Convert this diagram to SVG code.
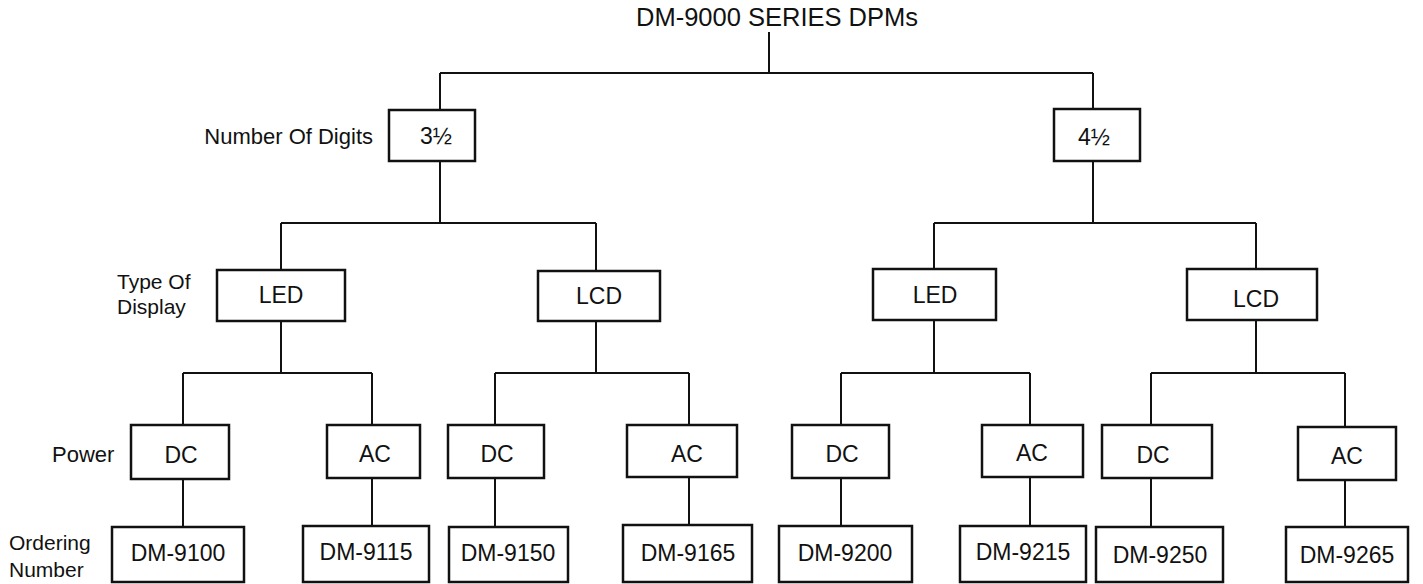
<svg xmlns="http://www.w3.org/2000/svg" width="1423" height="584" viewBox="0 0 1423 584">
<style>
.bx{fill:#fff;stroke:#111;stroke-width:2.5}
.ln{fill:none;stroke:#111;stroke-width:2}
text{font-family:"Liberation Sans",Arial,sans-serif;fill:#111}
.t{font-size:23px;text-anchor:middle}
.lb{font-size:22px}
</style>
<rect width="1423" height="584" fill="#fff"/>
<text x="777" y="26" style="font-size:25.5px;text-anchor:middle">DM-9000 SERIES DPMs</text>
<g id="labels">
<text class="lb" x="373" y="144" text-anchor="end">Number Of Digits</text>
<text class="lb" x="117" y="289" style="font-size:21px">Type Of</text>
<text class="lb" x="117" y="314" style="font-size:21px">Display</text>
<text class="lb" x="52" y="462">Power</text>
<text class="lb" x="9" y="550" style="font-size:21px">Ordering</text>
<text class="lb" x="9" y="577" style="font-size:21px">Number</text>
</g>
<g id="connectors" class="ln">
<path d="M769 32V73M440 73H1093M440 73V110M1093 73V109"/>
<path d="M440 161V223M281 223H596M281 223V270M596 223V271"/>
<path d="M1093 162V223M934 223H1256M934 223V269M1256 223V269"/>
<path d="M281 321V373M183 373H372M183 373V425M372 373V425"/>
<path d="M596 321V373M495 373H689M495 373V425M689 373V425"/>
<path d="M934 320V373M841 373H1030M841 373V425M1030 373V425"/>
<path d="M1256 320V373M1151 373H1345M1151 373V425M1345 373V427"/>
<path d="M183 479V527M372 478V526M495 478V527M689 477V525M841 478V526M1030 477V526M1151 478V527M1345 480V527"/>
</g>
<g id="n35"><rect class="bx" x="389" y="110" width="86" height="51"/><text class="t" x="436" y="144">3½</text></g>
<g id="n45"><rect class="bx" x="1054" y="109" width="86" height="52"/><text class="t" x="1094" y="145">4½</text></g>
<g id="led1"><rect class="bx" x="217" y="270" width="128" height="51"/><text class="t" x="281" y="303">LED</text></g>
<g id="lcd1"><rect class="bx" x="538" y="271" width="122" height="50"/><text class="t" x="599" y="304">LCD</text></g>
<g id="led2"><rect class="bx" x="873" y="269" width="123" height="51"/><text class="t" x="935" y="303">LED</text></g>
<g id="lcd2"><rect class="bx" x="1187" y="269" width="130" height="51"/><text class="t" x="1256" y="307">LCD</text></g>
<g id="dc1"><rect class="bx" x="131" y="425" width="98" height="54"/><text class="t" x="181" y="463">DC</text></g>
<g id="ac1"><rect class="bx" x="327" y="425" width="93" height="53"/><text class="t" x="375" y="462">AC</text></g>
<g id="dc2"><rect class="bx" x="448" y="425" width="96" height="53"/><text class="t" x="497" y="462">DC</text></g>
<g id="ac2"><rect class="bx" x="627" y="425" width="110" height="52"/><text class="t" x="687" y="462">AC</text></g>
<g id="dc3"><rect class="bx" x="792" y="425" width="97" height="53"/><text class="t" x="842" y="462">DC</text></g>
<g id="ac3"><rect class="bx" x="982" y="425" width="101" height="52"/><text class="t" x="1032" y="461">AC</text></g>
<g id="dc4"><rect class="bx" x="1102" y="425" width="110" height="53"/><text class="t" x="1153" y="463">DC</text></g>
<g id="ac4"><rect class="bx" x="1298" y="427" width="98" height="53"/><text class="t" x="1347" y="464">AC</text></g>
<g id="dm9100"><rect class="bx" x="112" y="527" width="132" height="55"/><text class="t" x="178" y="561">DM-9100</text></g>
<g id="dm9115"><rect class="bx" x="303" y="526" width="126" height="56"/><text class="t" x="366" y="560">DM-9115</text></g>
<g id="dm9150"><rect class="bx" x="449" y="527" width="119" height="55"/><text class="t" x="508" y="561">DM-9150</text></g>
<g id="dm9165"><rect class="bx" x="623" y="525" width="129" height="57"/><text class="t" x="688" y="561">DM-9165</text></g>
<g id="dm9200"><rect class="bx" x="779" y="526" width="133" height="56"/><text class="t" x="845" y="561">DM-9200</text></g>
<g id="dm9215"><rect class="bx" x="960" y="526" width="126" height="56"/><text class="t" x="1023" y="560">DM-9215</text></g>
<g id="dm9250"><rect class="bx" x="1096" y="527" width="127" height="55"/><text class="t" x="1160" y="563">DM-9250</text></g>
<g id="dm9265"><rect class="bx" x="1286" y="527" width="122" height="55"/><text class="t" x="1347" y="563">DM-9265</text></g>
</svg>
